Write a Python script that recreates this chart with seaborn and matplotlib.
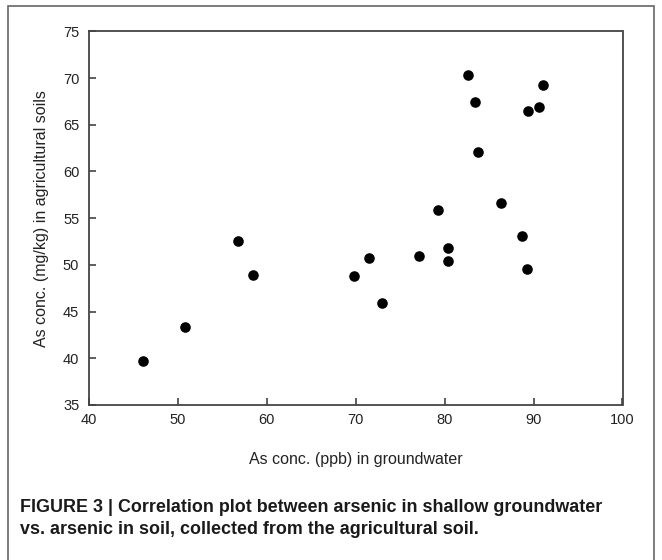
import matplotlib
matplotlib.use("Agg")
import matplotlib.pyplot as plt
import seaborn as sns
import pandas as pd
from matplotlib.patches import Rectangle

gw = [46.1, 50.8, 56.8, 58.4, 69.8, 71.5, 72.9, 77.1, 79.2, 80.4,
      80.4, 82.6, 83.4, 83.8, 86.3, 88.7, 89.3, 89.4, 90.6, 91.1]
soil = [39.7, 43.4, 52.6, 48.9, 48.8, 50.7, 45.9, 50.9, 55.9, 51.8,
        50.4, 70.3, 67.4, 62.1, 56.6, 53.1, 49.6, 66.5, 66.9, 69.3]
x_ticks = [40, 50, 60, 70, 80, 90, 100]
y_ticks = [35, 40, 45, 50, 55, 60, 65, 70, 75]

df = pd.DataFrame({"gw": gw, "soil": soil})

sns.set_theme(style="white")
plt.rcParams['font.family'] = ['Liberation Sans', 'DejaVu Sans']

W, H = 662, 560
fig = plt.figure(figsize=(W / 100, H / 100), dpi=100)
ax = fig.add_axes([89 / W, 1 - 405 / H, (622.5 - 89) / W, (405 - 31.3) / H])

sns.scatterplot(data=df, x="gw", y="soil", ax=ax, color="black",
                s=58, edgecolor="black", linewidth=0, legend=False)

ax.set_xlim(40, 100)
ax.set_ylim(35, 75)
ax.set_xticks(x_ticks)
ax.set_yticks(y_ticks)
ax.tick_params(axis="both", direction="in", length=5, width=1.1,
               color="#333333", labelsize=10.5, labelcolor="#222222",
               bottom=True, left=True, top=False, right=False)
ax.tick_params(axis="y", pad=7)
ax.tick_params(axis="x", pad=6)
for sp in ax.spines.values():
    sp.set_color("#444444")
    sp.set_linewidth(1.3)
    sp.set_visible(True)

ax.set_xlabel("As conc. (ppb) in groundwater", fontsize=11.5, color="#222222", labelpad=18)
ax.set_ylabel("As conc. (mg/kg) in agricultural soils", fontsize=11.5, color="#222222", labelpad=10)

# outer frame
fig.patches.append(Rectangle((8 / W, -0.05), (654 - 8) / W, 1 - 6 / H + 0.05,
                             transform=fig.transFigure, fill=False,
                             edgecolor="#666666", linewidth=1.2))

cap_kw = dict(fontsize=12.9, fontweight="bold", va="center", ha="left",
              family=["Liberation Sans", "DejaVu Sans"], color="#1a1a1a")
fig.text(20 / W, 1 - 507 / H,
         "FIGURE 3 | Correlation plot between arsenic in shallow groundwater", **cap_kw)
fig.text(20 / W, 1 - 530 / H,
         "vs. arsenic in soil, collected from the agricultural soil.", **cap_kw)

fig.savefig("out.png", dpi=100)
